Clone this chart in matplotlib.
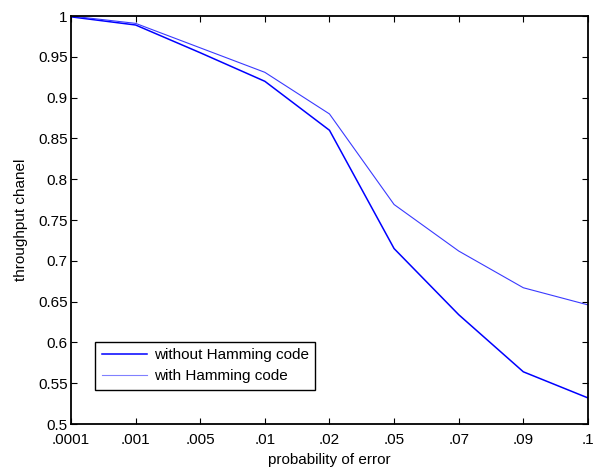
import matplotlib
matplotlib.use("Agg")
import matplotlib.pyplot as plt

plt.rcParams['font.family'] = ['Liberation Sans', 'DejaVu Sans']

categories = ['.0001', '.001', '.005', '.01', '.02', '.05', '.07', '.09', '.1']
without_hamming = [0.999, 0.989, 0.955, 0.920, 0.860, 0.715, 0.634, 0.564, 0.532]
with_hamming = [1.000, 0.991, 0.961, 0.931, 0.880, 0.769, 0.712, 0.667, 0.646]
yticks = [0.5, 0.55, 0.6, 0.65, 0.7, 0.75, 0.8, 0.85, 0.9, 0.95, 1]
ytick_labels = ['0.5', '0.55', '0.6', '0.65', '0.7', '0.75', '0.8', '0.85', '0.9', '0.95', '1']

fig = plt.figure(figsize=(5.98, 4.67), dpi=100)
ax = fig.add_axes([0.1187, 0.092, 0.8645, 0.8737])

x = list(range(1, len(categories) + 1))
ax.plot(x, without_hamming, color='#0000ff', lw=1.1, label='without Hamming code')
ax.plot(x, with_hamming, color='#3a3aff', lw=0.8, label='with Hamming code')

ax.set_xlim(1, len(categories))
ax.set_ylim(0.5, 1)
ax.set_xticks(x)
ax.set_xticklabels(categories)
ax.set_yticks(yticks)
ax.set_yticklabels(ytick_labels)
ax.tick_params(direction='in', top=True, right=True, length=4, width=0.8,
               labelsize=11, colors='black')
ax.tick_params(axis='y', pad=2.5)
ax.tick_params(axis='x', pad=6.5)
for s in ax.spines.values():
    s.set_linewidth(1.3)
ax.set_xlabel('probability of error', fontsize=11, labelpad=4)
ax.set_ylabel('throughput chanel', fontsize=11, labelpad=7)

leg = ax.legend(loc='lower left', bbox_to_anchor=(0.046, 0.083), fontsize=11,
                fancybox=False, edgecolor='black', framealpha=1,
                handlelength=3.0, borderpad=0.45, labelspacing=0.45,
                handletextpad=0.4, borderaxespad=0)
leg.get_frame().set_linewidth(1.0)
leg.get_lines()[1].set_color('#8080ff')

fig.savefig('out.png', dpi=100)
